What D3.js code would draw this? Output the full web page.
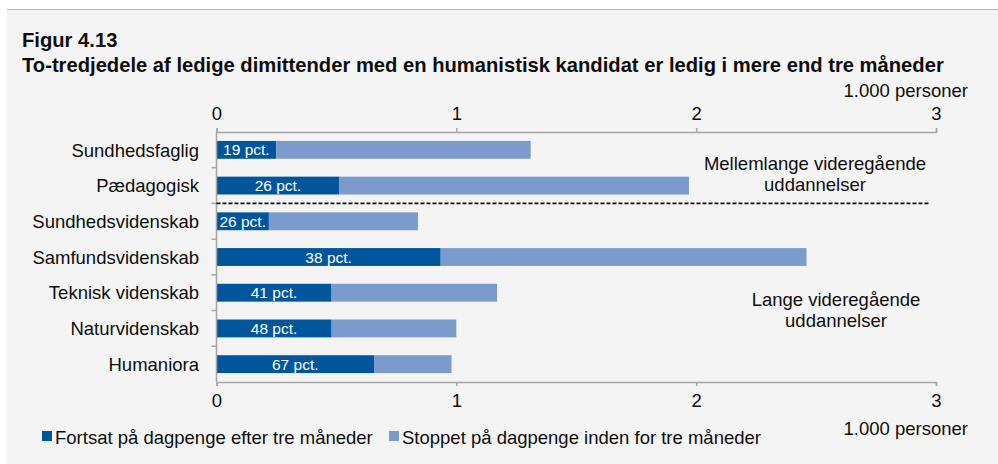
<!DOCTYPE html>
<html>
<head>
<meta charset="utf-8">
<script src="https://cdn.jsdelivr.net/npm/d3@7"></script>
<style>
  html, body { margin: 0; padding: 0; background: #ffffff; }
  svg { display: block; font-family: "Liberation Sans", Arial, sans-serif; }
</style>
</head>
<body>
<svg id="chart" width="998" height="464"></svg>
<script>
// Education groups, top to bottom
const categories = [
  "Sundhedsfaglig",
  "Pædagogisk",
  "Sundhedsvidenskab",
  "Samfundsvidenskab",
  "Teknisk videnskab",
  "Naturvidenskab",
  "Humaniora"
];
// Unemployed graduates in total, 1.000 persons
const totals = [1.31, 1.97, 0.84, 2.46, 1.17, 1.00, 0.98];
// Share still on benefits after three months, pct.
const sharePct = [19, 26, 26, 38, 41, 48, 67];
const xTicks = [0, 1, 2, 3];
const seriesNames = [
  "Fortsat på dagpenge efter tre måneder",
  "Stoppet på dagpenge inden for tre måneder"
];
const groupLabels = [
  ["Mellemlange videregående", "uddannelser"],
  ["Lange videregående", "uddannelser"]
];
const unitLabel = "1.000 personer";

const colors = ["#00569c", "#7a9bcb"];
const axisColor = "#a6a6a6";
const textColor = "#0d0d0d";
const fs = 18.5;

const rows = categories.map((c, i) => {
  const kept = totals[i] * sharePct[i] / 100;
  return { cat: c, kept: kept, stopped: totals[i] - kept, pct: sharePct[i] };
});
const stacked = d3.stack().keys(["kept", "stopped"])(rows);

const svg = d3.select("#chart");

// Grey panel with a thin rule on top
svg.append("rect").attr("x", 7).attr("y", 10).attr("width", 991).attr("height", 454)
  .attr("fill", "#f4f4f4");
svg.append("line").attr("x1", 7).attr("x2", 998).attr("y1", 9.5).attr("y2", 9.5)
  .attr("stroke", "#b4b4b4").attr("stroke-width", 1);

// Titles
svg.append("text").attr("x", 22).attr("y", 47)
  .attr("font-size", 20.2).attr("font-weight", "bold").attr("fill", textColor)
  .text("Figur 4.13");
svg.append("text").attr("x", 22).attr("y", 72)
  .attr("font-size", 20.2).attr("font-weight", "bold").attr("fill", textColor)
  .text("To-tredjedele af ledige dimittender med en humanistisk kandidat er ledig i mere end tre måneder");

const plotTop = 132, plotBottom = 382;
const x = d3.scaleLinear().domain([0, 3]).range([216.5, 936]);
const y = d3.scaleBand().domain(categories).range([plotTop, plotBottom])
  .paddingInner(0.5).paddingOuter(0.25);

// Bars
svg.append("g").selectAll("g").data(stacked).join("g")
  .attr("fill", (d, i) => colors[i])
  .selectAll("rect").data(d => d).join("rect")
  .attr("x", d => x(d[0]))
  .attr("width", d => x(d[1]) - x(d[0]))
  .attr("y", d => y(d.data.cat))
  .attr("height", y.bandwidth());

// Share labels inside the dark segment
svg.append("g").selectAll("text").data(rows).join("text")
  .attr("x", d => (x(0) + x(d.kept)) / 2)
  .attr("y", d => y(d.cat) + y.bandwidth() / 2)
  .attr("dy", "0.36em")
  .attr("text-anchor", "middle")
  .attr("font-size", 15.5).attr("fill", "#ffffff")
  .text(d => d.pct + " pct.");

// Axes
function styleAxis(g) {
  g.select(".domain").attr("stroke", axisColor).attr("stroke-width", 1.5);
  g.selectAll(".tick line").attr("stroke", axisColor).attr("stroke-width", 1.5);
  g.selectAll(".tick text").attr("font-size", fs).attr("fill", textColor)
    .attr("font-family", "Liberation Sans, Arial, sans-serif");
}
svg.append("g").attr("transform", `translate(0,${plotTop})`)
  .call(d3.axisTop(x).tickValues(xTicks).tickFormat(d3.format("d")).tickSize(4).tickSizeOuter(4).tickPadding(8))
  .call(styleAxis);
svg.append("g").attr("transform", `translate(0,${plotBottom})`)
  .call(d3.axisBottom(x).tickValues(xTicks).tickFormat(d3.format("d")).tickSize(4).tickSizeOuter(4).tickPadding(8))
  .call(styleAxis);

// Vertical category axis with ticks between the bands
const yAxis = svg.append("g");
yAxis.append("line").attr("x1", x(0)).attr("x2", x(0)).attr("y1", plotTop).attr("y2", plotBottom)
  .attr("stroke", axisColor).attr("stroke-width", 1.5);
yAxis.selectAll("line.sep").data(d3.range(1, categories.length)).join("line")
  .attr("class", "sep")
  .attr("x1", x(0) - 5).attr("x2", x(0))
  .attr("y1", i => y(categories[i]) - y.step() * y.paddingInner() / 2)
  .attr("y2", i => y(categories[i]) - y.step() * y.paddingInner() / 2)
  .attr("stroke", axisColor).attr("stroke-width", 1.5);
yAxis.selectAll("text").data(categories).join("text")
  .attr("x", 199)
  .attr("y", d => y(d) + y.bandwidth() / 2)
  .attr("dy", "0.36em")
  .attr("text-anchor", "end")
  .attr("font-size", fs).attr("fill", textColor)
  .text(d => d);

// Divider between the two education levels
const divY = y(categories[2]) - y.step() * y.paddingInner() / 2;
svg.append("line").attr("x1", x(0)).attr("x2", 930).attr("y1", divY).attr("y2", divY)
  .attr("stroke", "#111").attr("stroke-width", 1.7).attr("stroke-dasharray", "4,2");

// Group annotations
const groupPos = [[815, 169.5], [836, 305.5]];
groupLabels.forEach((lines, gi) => {
  const t = svg.append("text").attr("text-anchor", "middle")
    .attr("font-size", fs).attr("fill", textColor);
  lines.forEach((s, li) => {
    t.append("tspan").attr("x", groupPos[gi][0]).attr("y", groupPos[gi][1] + li * 21).text(s);
  });
});

// Unit labels
svg.append("text").attr("x", 968).attr("y", 97).attr("text-anchor", "end")
  .attr("font-size", fs).attr("fill", textColor).text(unitLabel);
svg.append("text").attr("x", 968).attr("y", 434.5).attr("text-anchor", "end")
  .attr("font-size", fs).attr("fill", textColor).text(unitLabel);

// Legend
const legendX = [42, 389];
seriesNames.forEach((name, i) => {
  svg.append("rect").attr("x", legendX[i]).attr("y", 431).attr("width", 10).attr("height", 10)
    .attr("fill", colors[i]);
  svg.append("text").attr("x", legendX[i] + 13).attr("y", 443.5)
    .attr("font-size", fs).attr("fill", textColor).text(name);
});
</script>
</body>
</html>
